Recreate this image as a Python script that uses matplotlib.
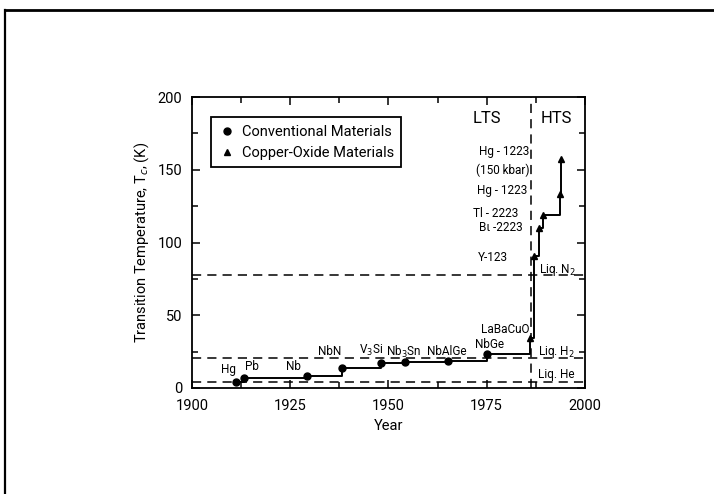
import matplotlib.pyplot as plt
from matplotlib.lines import Line2D

plt.rcParams['font.family'] = ['Roboto', 'DejaVu Sans']

# discovery year and transition temperature (K)
conv_names = ['Hg', 'Pb', 'Nb', 'NbN', 'V$_3$Si', 'Nb$_3$Sn', 'NbAlGe', 'NbGe']
conv_year = [1911.1, 1913.2, 1929.2, 1938.1, 1948.2, 1954.2, 1965.2, 1975.0]
conv_tc = [4.3, 7.1, 8.5, 14.0, 17.0, 17.7, 18.8, 23.1]

oxide_names = ['LaBaCuO', 'Y-123', 'Bι -2223', 'Tl - 2223', 'Hg - 1223', 'Hg - 1223\n(150 kbar)']
oxide_year = [1986.1, 1987.0, 1988.4, 1989.4, 1993.6, 1993.9]
oxide_tc = [34.5, 90.7, 109.8, 118.9, 133.3, 157.5]

# cryogen boiling points
liq_names = ['Liq. N$_2$', 'Liq. H$_2$', 'Liq. He']
liq_tc = [77.4, 20.8, 4.2]
lts_hts_year = 1986.4

conv_lab = [(1909.2, 12.4), (1915.3, 14.6), (1925.8, 14.6), (1935.1, 25),
            (1945.7, 26), (1954.0, 25), (1964.8, 25), (1975.7, 30)]
oxide_lab = [(1986.0, 40), (1980.4, 89.6), (1984.2, 110.4), (1983.2, 119.6),
             (1985.5, 136), (1986.0, 156)]
liq_lab = [(1988.4, 81), (1988.1, 25), (1988.1, 9)]

fig = plt.figure(figsize=(7.14, 4.94), dpi=100)
ax = fig.add_axes([0.269, 0.2146, 0.550, 0.589])

years = conv_year + oxide_year
tcs = conv_tc + oxide_tc
ax.plot(years, tcs, color='black', lw=1.4, drawstyle='steps-post', zorder=3)
ax.plot(conv_year, conv_tc, 'o', color='black', ms=5, zorder=4)
ax.plot(oxide_year, oxide_tc, '^', color='black', ms=5, zorder=4)

for t in liq_tc:
    ax.axhline(t, color='black', lw=1.1, ls=(0, (6, 4)), zorder=2)
ax.axvline(lts_hts_year, color='black', lw=1.1, ls=(0, (6, 4)), zorder=2)

for name, (x, y) in zip(conv_names, conv_lab):
    ax.text(x, y, name, ha='center', va='center', fontsize=8.5)
for name, (x, y) in zip(oxide_names, oxide_lab):
    ax.text(x, y, name, ha='right', va='center', fontsize=8.5, linespacing=1.6)
for name, (x, y) in zip(liq_names, liq_lab):
    ax.text(x, y, name, ha='left', va='center', fontsize=8.5)

ax.text(1975, 185, 'LTS', ha='center', va='center', fontsize=12)
ax.text(1992.8, 185, 'HTS', ha='center', va='center', fontsize=12)

ax.set_xlim(1900, 2000)
ax.set_ylim(0, 200)
ax.set_xticks([1900, 1925, 1950, 1975, 2000])
ax.set_xticks([1912.5, 1937.5, 1962.5, 1987.5], minor=True)
ax.set_yticks([0, 50, 100, 150, 200])
ax.set_yticks([25, 75, 125, 175], minor=True)
ax.tick_params(which='both', direction='in', top=True, right=True,
               labelsize=10.5, width=1.1)
ax.tick_params(which='major', length=6)
ax.tick_params(which='minor', length=4)
ax.tick_params(axis='y', pad=7)
ax.tick_params(axis='x', pad=8)
for s in ax.spines.values():
    s.set_linewidth(1.3)

ax.set_xlabel('Year', fontsize=10.5, labelpad=4)
ax.set_ylabel('Transition Temperature, T$_c$, (K)', fontsize=10.5, labelpad=5)

handles = [Line2D([], [], ls='none', marker='o', color='black', ms=5),
           Line2D([], [], ls='none', marker='^', color='black', ms=5)]
leg = ax.legend(handles, ['Conventional Materials', 'Copper-Oxide Materials'],
                loc='upper left', bbox_to_anchor=(0.03, 0.955), fontsize=10.5,
                fancybox=False, edgecolor='black', framealpha=1,
                handletextpad=0.4, handlelength=1.2, borderpad=0.5)
leg.get_frame().set_linewidth(1.3)

# page frame
fig.add_artist(Line2D([0.007, 1.0], [0.98, 0.98], color='black', lw=2,
                      transform=fig.transFigure))
fig.add_artist(Line2D([0.007, 0.007], [0.0, 0.98], color='black', lw=1.6,
                      transform=fig.transFigure))

fig.savefig('out.png', dpi=100)
